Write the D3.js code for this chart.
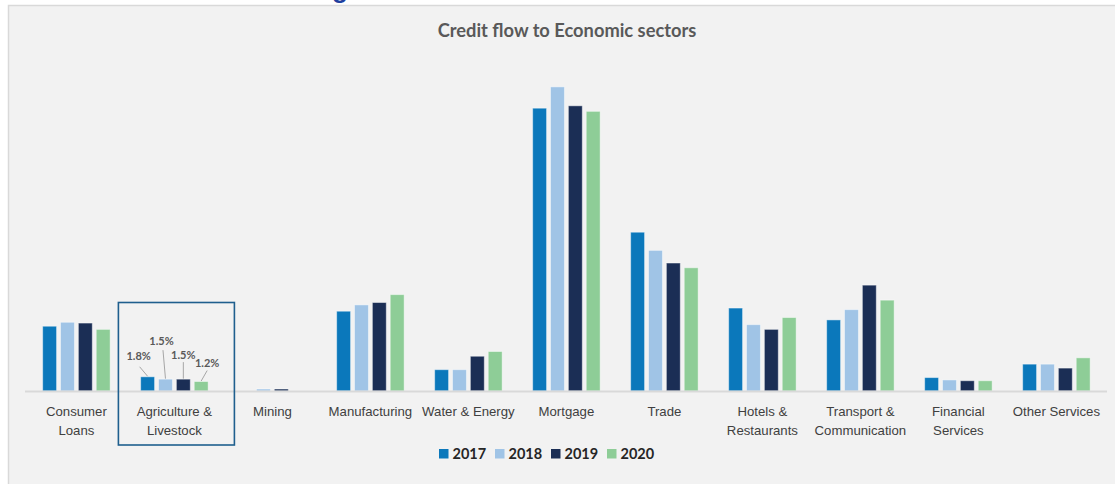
<!DOCTYPE html>
<html>
<head>
<meta charset="utf-8">
<script src="https://cdn.jsdelivr.net/npm/d3@7"></script>
<style>
  body { margin: 0; background: #fff; }
  svg { display: block; font-family: Lato, "Open Sans", sans-serif; }
</style>
</head>
<body>
<figure id="bar" style="margin:0"></figure>
<script>
// sectors and their two-line tick labels
const categories = ["Consumer Loans", "Agriculture & Livestock", "Mining", "Manufacturing",
  "Water & Energy", "Mortgage", "Trade", "Hotels & Restaurants",
  "Transport & Communication", "Financial Services", "Other Services"];
const tickLines = [["Consumer", "Loans"], ["Agriculture &", "Livestock"], ["Mining"], ["Manufacturing"],
  ["Water & Energy"], ["Mortgage"], ["Trade"], ["Hotels &", "Restaurants"],
  ["Transport &", "Communication"], ["Financial", "Services"], ["Other Services"]];
const years = ["2017", "2018", "2019", "2020"];

// share of credit, %
const v2017 = [8.2, 1.8, 0.0, 10.1, 2.7, 35.8, 20.1, 10.5, 9.0, 1.7, 3.4];
const v2018 = [8.7, 1.5, 0.25, 10.9, 2.7, 38.5, 17.8, 8.4, 10.3, 1.4, 3.4];
const v2019 = [8.6, 1.5, 0.25, 11.2, 4.4, 36.1, 16.2, 7.8, 13.4, 1.3, 2.9];
const v2020 = [7.8, 1.2, 0.0, 12.2, 5.0, 35.4, 15.6, 9.3, 11.5, 1.3, 4.2];
const series = [v2017, v2018, v2019, v2020];
const colors = ["#0b78bb", "#a0c4e6", "#1b2e55", "#8ecd97"];

const highlighted = "Agriculture & Livestock";

const W = 1115, H = 484;
const baseline = 391;
const groupW = 67.5;

const svg = d3.select("figure#bar").append("svg")
  .attr("width", W).attr("height", H);

// panel
svg.append("rect")
  .attr("x", 8.5).attr("y", 5.5)
  .attr("width", W).attr("height", H)
  .attr("fill", "#f2f2f2")
  .attr("stroke", "#d9d9d9").attr("stroke-width", 1.5);

// clipped heading fragment from above the panel
svg.append("text")
  .attr("x", 332).attr("y", -2)
  .attr("font-family", "Liberation Sans, sans-serif")
  .attr("font-weight", "bold").attr("font-size", 26)
  .attr("fill", "#1f3f9f")
  .text("g");

svg.append("text")
  .attr("x", 567).attr("y", 37)
  .attr("text-anchor", "middle")
  .attr("font-weight", "bold").attr("font-size", 18.3)
  .attr("fill", "#595959")
  .text("Credit flow to Economic sectors");

const x0 = d3.scaleBand()
  .domain(categories)
  .range([27.4, 1105.4])
  .padding(0);

const x1 = d3.scaleBand()
  .domain(years)
  .range([0, groupW])
  .paddingInner(0.22)
  .paddingOuter(0);

const y = d3.scaleLinear()
  .domain([0, 40])
  .range([baseline, baseline - 316]);

const off = (x0.bandwidth() - groupW) / 2;

// bars
const groups = svg.append("g").selectAll("g")
  .data(categories)
  .join("g")
  .attr("transform", c => "translate(" + (x0(c) + off) + ",0)");

groups.selectAll("rect")
  .data((c, i) => years.map((yr, j) => ({ yr: yr, v: series[j][i], j: j })))
  .join("rect")
  .filter(d => d.v > 0)
  .attr("x", d => x1(d.yr))
  .attr("y", d => y(d.v))
  .attr("width", x1.bandwidth())
  .attr("height", d => baseline - y(d.v))
  .attr("fill", d => colors[d.j])
  .attr("stroke", "#ffffff").attr("stroke-opacity", 0.45).attr("stroke-width", 1);

// axis
const xAxis = svg.append("g")
  .attr("transform", "translate(0," + baseline + ")")
  .call(d3.axisBottom(x0).tickSize(0).tickPadding(0));
xAxis.select(".domain").attr("stroke", "#d9d9d9").attr("stroke-width", 2)
  .attr("d", "M25,0.5H1107");
xAxis.selectAll(".tick text").remove();
xAxis.selectAll(".tick").append("text")
  .attr("fill", "#404040")
  .attr("font-size", 13.2)
  .attr("text-anchor", "middle")
  .each(function (c) {
    const lines = tickLines[categories.indexOf(c)];
    d3.select(this).selectAll("tspan")
      .data(lines)
      .join("tspan")
      .attr("x", 0)
      .attr("y", (l, k) => 24.5 + k * 19)
      .text(l => l);
  });

// highlight box
svg.append("rect")
  .attr("x", x0(highlighted) - 7).attr("y", 302.5)
  .attr("width", 116).attr("height", 142.5)
  .attr("fill", "none")
  .attr("stroke", "#1f5f8e").attr("stroke-width", 1.6);

// data labels with leader lines for highlighted group
const hi = categories.indexOf(highlighted);
const labelOffsets = [
  { tx: -9, ty: -17, lx: -8, ly: -10 },
  { tx: -4, ty: -34, lx: -2.5, ly: -29 },
  { tx: 0, ty: -20, lx: 0, ly: -17 },
  { tx: 6, ty: -15, lx: 6, ly: -11 }
];
const hiG = svg.append("g").attr("transform", "translate(" + (x0(highlighted) + off) + ",0)");
years.forEach((yr, j) => {
  const v = series[j][hi];
  const cx = x1(yr) + x1.bandwidth() / 2;
  const top = y(v);
  const o = labelOffsets[j];
  hiG.append("line")
    .attr("x1", cx + o.lx).attr("y1", top + o.ly)
    .attr("x2", cx).attr("y2", top - 0.5)
    .attr("stroke", "#a6a6a6").attr("stroke-width", 1);
  hiG.append("text")
    .attr("x", cx + o.tx).attr("y", top + o.ty)
    .attr("text-anchor", "middle")
    .attr("font-size", 11).attr("font-weight", "bold")
    .attr("fill", "#595959")
    .text(d3.format(".1f")(v) + "%");
});

// legend
const legend = svg.append("g").attr("transform", "translate(439,449)");
const item = legend.selectAll("g")
  .data(years)
  .join("g")
  .attr("transform", (d, i) => "translate(" + (i * 56) + ",0)");
item.append("rect")
  .attr("width", 9.5).attr("height", 9.5)
  .attr("fill", (d, i) => colors[i]);
item.append("text")
  .attr("x", 13.5).attr("y", 10)
  .attr("font-size", 14.5).attr("font-weight", "bold")
  .attr("fill", "#262626")
  .text(d => d);
</script>
</body>
</html>
